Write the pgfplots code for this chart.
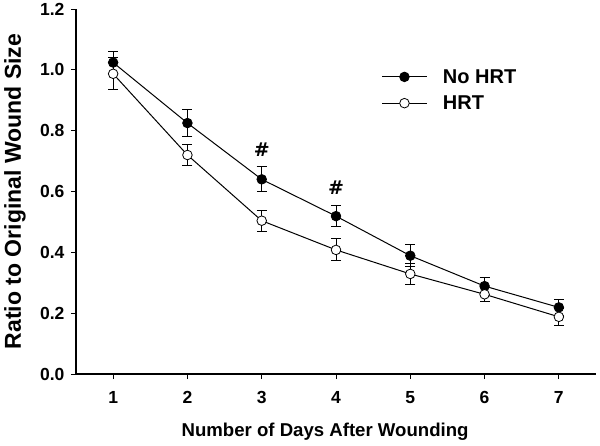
\documentclass[border=0pt]{standalone}
\usepackage{fontspec}
\setmainfont{Liberation Sans}
\newfontfamily\dejavu{DejaVu Sans}
\usepackage{pgfplots}
\pgfplotsset{compat=1.18}
\begin{document}
\begin{tikzpicture}
\begin{axis}[
  scale only axis,
  width=520pt, height=365pt,
  xmin=0.5, xmax=7.5, ymin=0, ymax=1.2,
  axis x line=bottom, axis y line=left,
  axis line style={-, line width=2.4pt},
  xtick={1,2,3,4,5,6,7},
  ytick={0,0.2,0.4,0.6,0.8,1.0,1.2},
  tick align=outside, major tick length=5pt,
  tick style={line width=1pt, black},
  /pgf/number format/assume math mode=true,
  yticklabel style={/pgf/number format/fixed, /pgf/number format/precision=1, /pgf/number format/fixed zerofill, font=\fontsize{17.5}{17.5}\selectfont\bfseries, xshift=-3pt},
  xticklabel style={font=\fontsize{17.5}{17.5}\selectfont\bfseries, yshift=-9pt},
  xlabel={Number of Days After Wounding},
  ylabel={Ratio to Original Wound Size},
  every axis x label/.style={at={(axis description cs:0.479,-0.158)}, anchor=center, font=\fontsize{18.6}{19}\selectfont\bfseries},
  every axis y label/.style={at={(axis description cs:-0.1173,0.5)}, anchor=center, rotate=90, font=\fontsize{23}{23}\selectfont\bfseries},
  legend style={draw=none, fill=none, at={(rel axis cs:0.588,0.778)}, anchor=west, inner sep=0pt, font=\fontsize{20}{20}\selectfont\bfseries, row sep=7pt, column sep=13pt},
  legend cell align=left,
  legend image code/.code={\draw[#1, mark repeat=2, mark phase=2] plot coordinates {(0pt,0pt) (22pt,0pt) (45pt,0pt)};},
  clip=false,
]
\addplot[black, line width=1pt, mark=*, mark size=4.8pt, mark options={fill=black, line width=0.8pt},
  error bars/.cd, y dir=both, y explicit, error mark options={rotate=90, mark size=5pt, line width=1pt}, error bar style={line width=1pt}]
  coordinates {
  (1,1.024) +- (0,0.035)
  (2,0.825) +- (0,0.044)
  (3,0.640) +- (0,0.041)
  (4,0.519) +- (0,0.035)
  (5,0.389) +- (0,0.036)
  (6,0.289) +- (0,0.028)
  (7,0.219) +- (0,0.027)
  };
\addlegendentry{No HRT}
\addplot[black, line width=1pt, mark=*, mark size=4.8pt, mark options={fill=white, line width=0.8pt},
  error bars/.cd, y dir=both, y explicit, error mark options={rotate=90, mark size=5pt, line width=1pt}, error bar style={line width=1pt}]
  coordinates {
  (1,0.987) +- (0,0.053)
  (2,0.720) +- (0,0.036)
  (3,0.504) +- (0,0.035)
  (4,0.408) +- (0,0.036)
  (5,0.329) +- (0,0.034)
  (6,0.262) +- (0,0.022)
  (7,0.188) +- (0,0.027)
  };
\addlegendentry{HRT}
\node[font=\fontsize{19}{19}\selectfont\dejavu\bfseries] at (axis cs:3,0.737) {\#};
\node[font=\fontsize{19}{19}\selectfont\dejavu\bfseries] at (axis cs:4,0.611) {\#};
\end{axis}
\pgfresetboundingbox
\path ([xshift=-76pt,yshift=-71pt]current axis.south west) rectangle ([xshift=4pt,yshift=9pt]current axis.north east);
\end{tikzpicture}
\end{document}
